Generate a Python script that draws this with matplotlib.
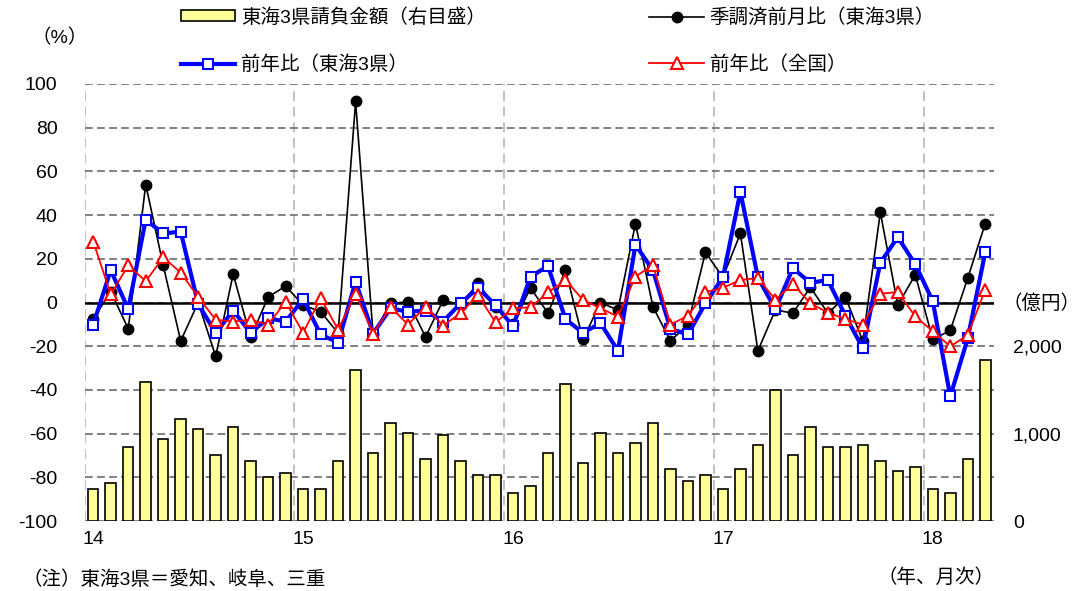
import matplotlib
matplotlib.use('Agg')
import matplotlib.pyplot as plt
from matplotlib.lines import Line2D
from matplotlib.patches import Patch
import numpy as np

plt.rcParams['font.family'] = ['Liberation Sans', 'Noto Sans CJK JP', 'DejaVu Sans']

# ---- data (Jan 2014 - Apr 2018, monthly) ----
year_labels = ['14', '15', '16', '17', '18']

amount = [368, 436, 846, 1594, 937, 1165, 1051, 755, 1074, 683, 509, 550,
          368, 368, 687, 1727, 778, 1116, 1002, 710, 983, 687, 527, 527,
          323, 395, 774, 1571, 664, 1002, 774, 888, 1116, 596, 459, 527,
          368, 596, 865, 1503, 755, 1070, 846, 846, 865, 687, 573, 622,
          368, 323, 710, 1841]

mom_sa = [-7.5, 5, -12, 54, 17, -17.6, 0, -24.6, 13, -16, 2.5, 7.5,
          -1.2, -4.2, -14, 92, -14.6, -0.4, 0.3, -15.7, 1, -1, 8.8, -2,
          -10, 6.7, -4.9, 14.8, -16.9, -0.1, -3.4, 36.1, -1.9, -17.6, -10.1, 23,
          11.5, 31.6, -22.1, -3.4, -4.9, 7, -4.9, 2.5, -17.6, 41.3, -1.2, 12.7,
          -16.9, -12.8, 11.2, 36.1]

yoy_tokai = [-10.1, 14.8, -3, 37.9, 31.6, 32.4, -0.7, -13.9, -3.7, -13.9, -7.2, -8.7,
             1.5, -14.6, -18.4, 9.6, -14.2, -2.7, -4.2, -3.7, -8.7, -0.4, 6.7, -1.2,
             -10.9, 11.8, 16.7, -7.6, -13.9, -9.4, -22.1, 26.4, 14.8, -12.1, -14.6, -0.4,
             11.5, 50.6, 11.5, -3.1, 15.7, 9, 10.3, -6, -20.9, 18.2, 29.9, 17.5,
             0.6, -43, -16.4, 23]

yoy_all = [27.9, 3.7, 17, 9.7, 20.7, 13.7, 2.5, -7.9, -8.7, -7.9, -10.1, 0.3,
           -13.9, 2, -12.4, 4, -14.2, -2.2, -10.1, -1.9, -10.6, -4.9, 3.3, -9.1,
           -2.6, -2.2, 4.6, 10.3, 1.2, -2.6, -6.5, 11.8, 17.2, -10.1, -6.1, 4.8,
           6.7, 10.3, 11.2, 1.3, 8.5, -0.4, -4.6, -7.6, -10.1, 4, 4.8, -6.4,
           -13.1, -20.1, -14.9, 5.8]

labels = ['東海3県請負金額（右目盛）', '前年比（東海3県）',
          '季調済前月比（東海3県）', '前年比（全国）']

n = len(amount)
x = np.arange(n)

W, H = 1088, 591
fig = plt.figure(figsize=(W / 100, H / 100), dpi=100)
L, R, B, T = 84.5 / W, 994 / W, 1 - 521 / H, 1 - 84 / H
ax = fig.add_axes([L, B, R - L, T - B])
ax2 = ax.twinx()
ax.set_zorder(ax2.get_zorder() + 1)
ax.patch.set_visible(False)

FS = 14

# bars (right axis)
ax2.bar(x, amount, width=0.6, color='#FFFF99', edgecolor='black', linewidth=1.2, zorder=3)
ax2.set_ylim(0, 5000)
rticks = np.arange(0, 5001, 500)
ax2.set_yticks(rticks)
ax2.set_yticklabels([f'{v:,}' if v in (0, 1000, 2000) else '' for v in rticks], fontsize=FS)
ax2.grid(axis='y', color='#808080', linestyle=(0, (4, 2.2)), linewidth=1.4, zorder=0)
ax2.set_axisbelow(True)
for i in range(0, n, 12):
    ax2.axvline(i - 0.5, color='#C0C0C0', linestyle=(0, (5, 3)), linewidth=1.4, zorder=0)

# lines (left axis)
ax.axhline(0, color='black', linewidth=1.8, zorder=2)
ax.plot(x, mom_sa, color='black', lw=1.2, marker='o', ms=7.5, mfc='black', mec='black', zorder=3)
ax.plot(x, yoy_tokai, color='#0000FF', lw=3, marker='s', ms=7.5, mfc='white',
        mec='#0000FF', mew=1.5, zorder=4)
ax.plot(x, yoy_all, color='#FF0000', lw=1.3, marker='^', ms=8.5, mfc='white',
        mec='#FF0000', mew=1.5, zorder=5)
ax.set_ylim(-100, 100)
ax.set_yticks(range(-100, 101, 20))
ax.set_yticklabels([str(v) for v in range(-100, 101, 20)], fontsize=FS)
ax.set_xlim(-0.5, n - 0.5)
ax.set_xticks(range(0, n, 12))
ax.set_xticklabels(year_labels, fontsize=FS)

for a in (ax, ax2):
    for s in a.spines.values():
        s.set_visible(False)
    a.tick_params(length=0)
ax.tick_params(axis='y', pad=19.5)
ax.tick_params(axis='x', pad=7)
ax2.tick_params(axis='y', pad=13.5)

handles = [
    Patch(facecolor='#FFFF99', edgecolor='black', linewidth=1.2),
    Line2D([], [], color='#0000FF', lw=3, marker='s', ms=7.5, mfc='white', mec='#0000FF', mew=1.5),
    Line2D([], [], color='black', lw=1.2, marker='o', ms=7.5, mfc='black'),
    Line2D([], [], color='#FF0000', lw=1.3, marker='^', ms=8.5, mfc='white', mec='#FF0000', mew=1.5),
]
fig.legend(handles, labels, ncol=2, loc='upper left', bbox_to_anchor=(181 / W, 1 - 8 / H),
           frameon=False, fontsize=FS, handlelength=2.8, handletextpad=0.3,
           columnspacing=8.4, labelspacing=1.45, borderpad=0, borderaxespad=0,
           handleheight=0.5)

fig.text(60 / W, 1 - 38 / H, '（%）', ha='center', va='center', fontsize=FS)
fig.text(1041 / W, 1 - 304 / H, '（億円）', ha='center', va='center', fontsize=FS)
fig.text(936 / W, 1 - 578 / H, '（年、月次）', ha='center', va='center', fontsize=FS)
fig.text(22 / W, 1 - 589 / H, '（注）東海3県＝愛知、岐阜、三重', ha='left', va='bottom', fontsize=FS)

fig.savefig('out.png', dpi=100)
